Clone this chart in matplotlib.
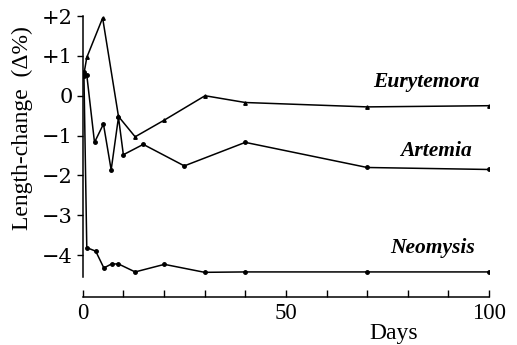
import matplotlib
matplotlib.use("Agg")
import matplotlib.pyplot as plt
from matplotlib.ticker import MultipleLocator

plt.rcParams['font.family'] = ['Liberation Serif', 'DejaVu Serif']

eury_days = [0.3, 1.0, 4.9, 8.8, 12.9, 20.1, 30.1, 40.0, 70.0, 100.0]
eury_vals = [0.55, 0.96, 1.95, -0.52, -1.03, -0.61, 0.0, -0.17, -0.28, -0.25]

art_days = [0.3, 1.0, 2.9, 5.1, 7.0, 8.8, 10.0, 14.9, 25.0, 40.0, 70.0, 100.0]
art_vals = [0.6, 0.52, -1.17, -0.71, -1.86, -0.54, -1.48, -1.22, -1.76, -1.17, -1.8, -1.85]

neo_days = [0.3, 1.0, 3.2, 5.2, 7.1, 8.8, 12.9, 20.1, 30.0, 40.0, 70.0, 100.0]
neo_vals = [0.5, -3.81, -3.9, -4.32, -4.22, -4.22, -4.42, -4.23, -4.43, -4.42, -4.42, -4.42]

yticks = [-4, -3, -2, -1, 0, 1, 2]
ytick_labels = ['−4', '−3', '−2', '−1', '0', '+1', '+2']
xticks = [0, 50, 100]

fig = plt.figure(figsize=(5.17, 3.45), dpi=100)
ax = fig.add_axes([0.16, 0.139, 0.786, 0.8146])

lw = 1.1
ax.plot(eury_days, eury_vals, color='black', lw=lw, marker='^', ms=2.5)
ax.plot(art_days, art_vals, color='black', lw=lw, marker='o', ms=2.5)
ax.plot(neo_days, neo_vals, color='black', lw=lw, marker='o', ms=2.5)

ax.set_xlim(0, 100)
ax.set_ylim(-5.05, 2.0)
for s in ['top', 'right']:
    ax.spines[s].set_visible(False)
ax.spines['left'].set_bounds(-4.55, 2.0)
ax.spines['left'].set_linewidth(1.1)
ax.spines['bottom'].set_linewidth(1.1)

ax.set_yticks(yticks)
ax.set_yticklabels(ytick_labels, family=['DejaVu Serif'])
ax.set_xticks(xticks)
ax.set_xticklabels([str(v) for v in xticks])
ax.xaxis.set_minor_locator(MultipleLocator(10))
ax.tick_params(axis='y', direction='out', length=4, width=1, labelsize=15, pad=3)
ax.tick_params(axis='x', which='both', direction='in', length=5, width=1, labelsize=16.5, pad=4)

fig.text(22 / 517, 1 - 128 / 345, 'Length-change  (Δ%)', rotation=90,
         ha='center', va='center', fontsize=17)
fig.text(394 / 517, 1 - 333 / 345, 'Days', ha='center', va='center', fontsize=17)

tstyle = dict(fontsize=15.5, style='italic', fontweight='bold', ha='center', va='center')
ax.text(84.5, 0.35, 'Eurytemora', **tstyle)
ax.text(87, -1.38, 'Artemia', **tstyle)
ax.text(86, -3.83, 'Neomysis', **tstyle)

fig.savefig('out.png', dpi=100)
